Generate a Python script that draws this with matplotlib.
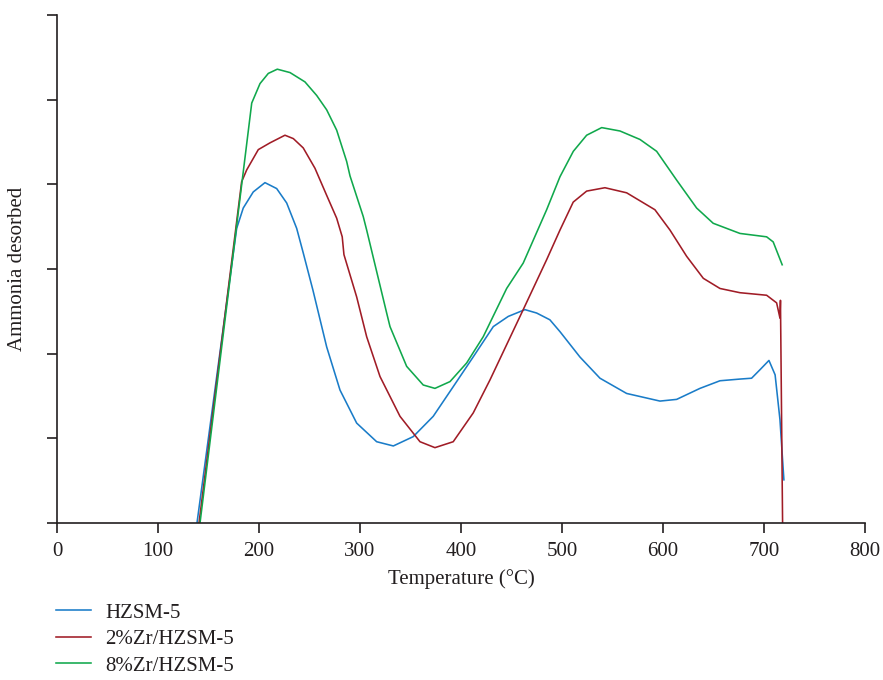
import matplotlib
matplotlib.use("Agg")
import matplotlib.pyplot as plt

plt.rcParams['font.family'] = ['Liberation Serif', 'DejaVu Serif']

# HZSM-5
hz_x = [138.6, 177.9, 184.4, 194.3, 205.9, 217.5, 227.4, 237.3, 243.8, 253.4, 267.0,
        280.2, 296.7, 316.5, 333.0, 352.7, 372.5, 392.3, 412.0, 432.0, 446.8, 463.3,
        474.9, 488.0, 498.0, 517.8, 537.6, 564.0, 597.0, 613.5, 636.6, 656.4, 676.2,
        687.7, 696.0, 704.9, 711.0, 715.8, 719.7]
hz_y = [0.0, 3.48, 3.72, 3.91, 4.02, 3.95, 3.78, 3.48, 3.19, 2.75, 2.08,
        1.57, 1.18, 0.96, 0.91, 1.02, 1.26, 1.61, 1.96, 2.32, 2.44, 2.52,
        2.48, 2.40, 2.26, 1.96, 1.71, 1.53, 1.44, 1.46, 1.59, 1.68, 1.70,
        1.71, 1.81, 1.92, 1.75, 1.22, 0.51]

# 2%Zr/HZSM-5
zr2_x = [140.6, 182.8, 187.8, 199.3, 210.9, 225.7, 234.0, 243.8, 255.4, 267.0, 276.9,
         282.4, 284.1, 296.7, 306.6, 319.8, 339.6, 359.4, 374.2, 392.3, 412.1, 428.7,
         461.6, 484.8, 498.0, 511.1, 524.4, 542.5, 564.0, 592.0, 606.9, 623.4, 639.9,
         656.4, 676.2, 702.6, 712.5, 715.8, 716.3, 718.4]
zr2_y = [0.0, 4.03, 4.17, 4.41, 4.49, 4.58, 4.54, 4.43, 4.19, 3.87, 3.60,
         3.38, 3.17, 2.67, 2.20, 1.73, 1.26, 0.96, 0.89, 0.96, 1.30, 1.69,
         2.52, 3.11, 3.46, 3.79, 3.92, 3.96, 3.90, 3.70, 3.46, 3.15, 2.89,
         2.77, 2.72, 2.69, 2.60, 2.42, 2.63, 0.0]

# 8%Zr/HZSM-5
zr8_x = [141.6, 192.8, 201.0, 209.2, 218.1, 230.7, 245.5, 257.1, 267.0, 276.9, 286.8,
         290.1, 303.2, 306.6, 316.5, 326.4, 329.7, 346.2, 362.6, 374.2, 389.1, 405.6,
         422.0, 445.2, 461.6, 484.8, 498.0, 511.2, 524.4, 539.3, 557.4, 577.2, 593.7,
         613.5, 633.3, 649.7, 676.2, 702.6, 709.1, 718.0]
zr8_y = [0.0, 4.96, 5.19, 5.31, 5.36, 5.32, 5.21, 5.05, 4.88, 4.64, 4.27,
         4.10, 3.62, 3.46, 2.97, 2.48, 2.32, 1.85, 1.63, 1.59, 1.67, 1.89,
         2.20, 2.77, 3.07, 3.70, 4.09, 4.39, 4.58, 4.67, 4.63, 4.53, 4.39,
         4.05, 3.72, 3.54, 3.42, 3.38, 3.32, 3.05]

labels = ["HZSM-5", "2%Zr/HZSM-5", "8%Zr/HZSM-5"]
colors = ["#1a7cc8", "#a01c26", "#10a84c"]
x_ticks = [0, 100, 200, 300, 400, 500, 600, 700, 800]

fig = plt.figure(figsize=(8.83, 6.80), dpi=100)
ax = fig.add_axes([57/883, 1-523/680, (865-57)/883, (523-15)/680])

for xs, ys, lab, c in zip([hz_x, zr2_x, zr8_x], [hz_y, zr2_y, zr8_y], labels, colors):
    ax.plot(xs, ys, color=c, lw=1.15, label=lab, solid_joinstyle='round')

ax.set_xlim(0, 800)
ax.set_ylim(0, 6)
ax.set_xticks(x_ticks)
ax.set_yticks(range(0, 7))
ax.set_yticklabels([])
for s in ['top', 'right']:
    ax.spines[s].set_visible(False)
for s in ['left', 'bottom']:
    ax.spines[s].set_linewidth(1.2)
    ax.spines[s].set_color('#231f20')
ax.tick_params(direction='out', length=7, width=1.2, colors='#231f20', labelsize=15, pad=6.5)
ax.set_xlabel("Temperature (°C)", fontsize=15, color='#231f20', labelpad=6)
ax.set_ylabel("Ammonia desorbed", fontsize=15, color='#231f20', labelpad=8)

handles, labs = ax.get_legend_handles_labels()
fig.legend(handles, labs, loc='upper left', bbox_to_anchor=(0.0634, 0.113),
           frameon=False, fontsize=15, handlelength=1.68, handletextpad=0.67,
           labelspacing=0.33, borderaxespad=0, borderpad=0, labelcolor='#231f20')

fig.savefig("out.png", dpi=100)
